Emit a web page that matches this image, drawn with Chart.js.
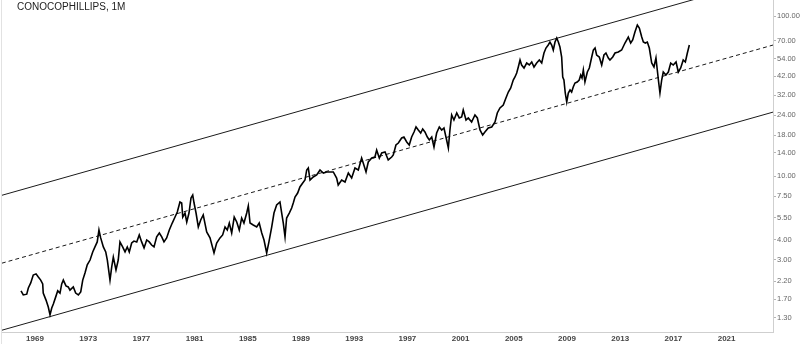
<!DOCTYPE html>
<html>
<head>
<meta charset="utf-8">
<title>ConocoPhillips, 1M</title>
<script src="https://cdn.jsdelivr.net/npm/chart.js@4.4.1/dist/chart.umd.min.js"></script>
<style>
    html, body { margin: 0; padding: 0; background: #fff; }
    #wrap { position: relative; width: 800px; height: 344px; }
    #title { position: absolute; left: 17px; top: 0; font: 10px/14px "Liberation Sans", Arial, sans-serif; color: #222; }
    #edge { position: absolute; left: 1px; top: 0; width: 1px; height: 344px; background: #e2e2e2; }
</style>
</head>
<body>
<div id="wrap">
    <canvas id="chart" width="800" height="344"></canvas>
    <div id="edge"></div>
    <div id="title">CONOCOPHILLIPS, 1M</div>
</div>
<script>
// Dữ liệu (giá tháng, thang log)
const years = [
    1967.95, 1968.12, 1968.38, 1968.50, 1968.68, 1968.87, 1969.08, 1969.25, 1969.43, 1969.58,
    1969.62, 1969.83, 1970.00, 1970.13, 1970.26, 1970.38, 1970.56, 1970.71, 1970.88, 1971.01,
    1971.13, 1971.33, 1971.50, 1971.63, 1971.88, 1972.06, 1972.26, 1972.44, 1972.59, 1972.76,
    1972.93, 1973.14, 1973.34, 1973.51, 1973.68, 1973.81, 1973.94, 1974.14, 1974.32, 1974.44,
    1974.64, 1974.77, 1974.89, 1975.09, 1975.26, 1975.39, 1975.59, 1975.77, 1975.94, 1976.09,
    1976.27, 1976.44, 1976.65, 1976.84, 1977.02, 1977.20, 1977.40, 1977.59, 1977.77, 1977.95,
    1978.15, 1978.35, 1978.53, 1978.70, 1978.90, 1979.10, 1979.32, 1979.53, 1979.70, 1979.90,
    1980.03, 1980.11, 1980.28, 1980.41, 1980.58, 1980.73, 1980.86, 1980.96, 1981.11, 1981.28,
    1981.46, 1981.65, 1981.91, 1982.16, 1982.46, 1982.66, 1982.91, 1983.11, 1983.29, 1983.46,
    1983.61, 1983.79, 1983.98, 1984.17, 1984.36, 1984.54, 1984.71, 1984.92, 1985.04, 1985.17,
    1985.41, 1985.67, 1985.86, 1986.05, 1986.22, 1986.42, 1986.59, 1986.80, 1986.97, 1987.17,
    1987.42, 1987.55, 1987.67, 1987.80, 1987.92, 1988.12, 1988.30, 1988.42, 1988.55, 1988.75,
    1988.92, 1989.13, 1989.30, 1989.43, 1989.55, 1989.68, 1989.92, 1990.18, 1990.43, 1990.68,
    1990.93, 1991.18, 1991.43, 1991.68, 1991.80, 1992.06, 1992.31, 1992.56, 1992.81, 1993.06,
    1993.31, 1993.56, 1993.68, 1993.89, 1994.06, 1994.32, 1994.56, 1994.69, 1994.89, 1995.07,
    1995.32, 1995.56, 1995.82, 1995.94, 1996.14, 1996.32, 1996.57, 1996.74, 1996.95, 1997.14,
    1997.32, 1997.50, 1997.65, 1997.82, 1998.00, 1998.15, 1998.32, 1998.50, 1998.65, 1998.83,
    1999.00, 1999.20, 1999.40, 1999.58, 1999.75, 1999.95, 2000.08, 2000.20, 2000.33, 2000.50,
    2000.71, 2000.90, 2001.08, 2001.20, 2001.41, 2001.58, 2001.83, 2002.08, 2002.26, 2002.46,
    2002.66, 2002.83, 2003.08, 2003.34, 2003.59, 2003.76, 2003.96, 2004.21, 2004.41, 2004.59,
    2004.77, 2004.96, 2005.09, 2005.22, 2005.34, 2005.47, 2005.59, 2005.77, 2005.97, 2006.17,
    2006.35, 2006.52, 2006.72, 2006.92, 2007.10, 2007.27, 2007.42, 2007.59, 2007.72, 2007.85,
    2007.97, 2008.10, 2008.23, 2008.35, 2008.47, 2008.60, 2008.68, 2008.77, 2008.87, 2008.98,
    2009.10, 2009.23, 2009.35, 2009.47, 2009.60, 2009.77, 2009.92, 2010.03, 2010.13, 2010.23,
    2010.35, 2010.53, 2010.68, 2010.86, 2010.98, 2011.11, 2011.23, 2011.43, 2011.61, 2011.78,
    2011.93, 2012.11, 2012.23, 2012.44, 2012.61, 2012.86, 2013.11, 2013.36, 2013.61, 2013.79,
    2013.94, 2014.11, 2014.29, 2014.44, 2014.62, 2014.74, 2014.89, 2015.04, 2015.19, 2015.37,
    2015.54, 2015.69, 2015.79, 2015.89, 2015.99, 2016.12, 2016.24, 2016.44, 2016.62, 2016.80,
    2016.99, 2017.20, 2017.37, 2017.55, 2017.74, 2017.90, 2018.05, 2018.20
];
const closes = [
    1.92, 1.81, 1.83, 2.00, 2.15, 2.41, 2.45, 2.34, 2.24, 2.12,
    1.86, 1.68, 1.52, 1.36, 1.50, 1.59, 1.76, 1.92, 1.86, 2.12,
    2.24, 2.06, 2.03, 1.94, 2.03, 1.86, 1.81, 1.89, 2.24, 2.48,
    2.79, 2.99, 3.36, 3.61, 3.88, 4.61, 4.11, 3.61, 3.36, 2.99,
    2.24, 2.71, 3.12, 2.59, 2.99, 3.88, 3.61, 3.36, 3.61, 3.36,
    3.82, 3.93, 3.88, 4.29, 3.88, 3.56, 3.99, 3.88, 3.71, 3.61,
    4.17, 4.41, 4.17, 3.88, 4.11, 4.61, 5.09, 5.55, 5.97, 6.89,
    6.79, 5.55, 5.88, 5.17, 5.88, 7.30, 7.62, 6.79, 5.88, 4.81,
    5.32, 5.72, 4.48, 4.11, 3.31, 3.82, 4.11, 4.29, 4.81, 4.61,
    5.09, 4.41, 5.55, 5.17, 4.61, 5.47, 5.09, 5.88, 6.51, 5.09,
    4.95, 4.81, 5.09, 4.41, 3.99, 3.31, 3.88, 4.81, 5.88, 6.60,
    6.89, 5.88, 5.09, 4.17, 5.47, 5.88, 6.32, 6.79, 7.40, 7.84,
    8.55, 9.06, 9.45, 10.92, 11.24, 9.45, 9.87, 10.16, 10.92, 10.45,
    10.61, 10.61, 10.61, 9.73, 8.80, 9.45, 9.19, 10.45, 9.73, 11.24,
    10.92, 12.97, 12.07, 10.61, 12.25, 12.97, 13.16, 14.55, 12.97, 13.94,
    14.14, 12.61, 13.16, 13.55, 15.64, 16.10, 17.30, 17.55, 16.33, 15.64,
    17.55, 18.86, 20.27, 19.41, 18.59, 19.70, 18.86, 17.55, 16.81, 17.55,
    15.20, 18.59, 20.27, 19.41, 19.98, 16.81, 14.98, 19.41, 24.08, 22.41,
    24.79, 23.07, 23.40, 25.88, 22.41, 23.07, 21.77, 24.08, 23.07, 19.41,
    18.06, 18.86, 19.98, 20.27, 21.77, 24.79, 26.64, 27.81, 30.75, 33.52,
    35.50, 39.83, 41.59, 44.06, 48.02, 53.11, 49.42, 47.34, 50.86, 49.42,
    51.61, 48.02, 50.86, 53.11, 50.86, 58.73, 63.10, 65.89, 68.79, 65.89,
    61.31, 68.79, 72.86, 68.79, 64.02, 55.45, 41.59, 39.83, 33.04, 29.03,
    33.04, 34.50, 33.52, 36.02, 38.15, 38.71, 39.83, 42.81, 41.00, 45.99,
    38.71, 44.69, 47.34, 55.45, 61.31, 63.10, 57.06, 55.45, 49.42, 57.06,
    58.73, 54.66, 53.11, 55.45, 58.73, 59.58, 61.31, 67.81, 73.91, 67.81,
    70.80, 79.45, 87.86, 84.14, 73.91, 68.79, 67.81, 68.79, 63.10, 50.86,
    48.02, 54.66, 45.99, 38.71, 33.04, 39.83, 44.69, 42.81, 44.69, 50.86,
    49.42, 51.61, 44.69, 47.34, 53.11, 51.61, 58.73, 65.89
];

// Kênh xu hướng: ba đường song song (trên, giữa nét đứt, dưới)
const channelYears = [1966, 2025];
const upperLine = [7.38, 179.9];
const middleLine = [2.78, 67.7];
const lowerLine = [1.06, 25.8];

// Nhãn trục
const xTickYears = [1969, 1973, 1977, 1981, 1985, 1989, 1993, 1997, 2001, 2005, 2009, 2013, 2017, 2021];
const yTickValues = [1.3, 1.7, 2.2, 3, 4, 5.5, 7.5, 10, 14, 18, 24, 32, 42, 54, 70, 100];

function toPoints(xs, ys) {
    return xs.map((x, i) => ({x: x, y: ys[i]}));
}

function channelSet(values, dash) {
    return {
        data: toPoints(channelYears, values),
        borderColor: '#1a1a1a',
        borderWidth: 1,
        borderDash: dash,
        pointRadius: 0,
        tension: 0
    };
}

const ctx = document.getElementById('chart').getContext('2d');

new Chart(ctx, {
    type: 'line',
    data: {
        datasets: [
            {
                label: 'COP',
                data: toPoints(years, closes),
                borderColor: '#000',
                borderWidth: 1.6,
                pointRadius: 0,
                tension: 0
            },
            channelSet(upperLine, []),
            channelSet(middleLine, [4, 3]),
            channelSet(lowerLine, [])
        ]
    },
    options: {
        responsive: false,
        animation: false,
        devicePixelRatio: 1,
        layout: {padding: {left: 2, right: 0, top: 0, bottom: 0}},
        plugins: {
            legend: {display: false},
            tooltip: {enabled: false}
        },
        scales: {
            x: {
                type: 'linear',
                position: 'bottom',
                min: 1966.52,
                max: 2024.49,
                afterBuildTicks: s => { s.ticks = xTickYears.map(v => ({value: v})); },
                afterFit: s => { s.height = 12; s.paddingLeft = 0; s.paddingRight = 0; },
                ticks: {
                    callback: v => String(v),
                    autoSkip: false,
                    maxRotation: 0,
                    padding: 2,
                    color: '#444',
                    font: {family: '"Liberation Sans", Arial, sans-serif', size: 8, weight: 'bold'}
                },
                grid: {drawOnChartArea: false, drawTicks: false},
                border: {color: '#cfcfcf'}
            },
            y: {
                type: 'logarithmic',
                position: 'right',
                min: 1.062,
                max: 125.9,
                afterBuildTicks: s => { s.ticks = yTickValues.map(v => ({value: v})); },
                afterFit: s => { s.width = 27; s.paddingTop = 0; s.paddingBottom = 0; },
                ticks: {
                    callback: v => Number(v).toFixed(2),
                    autoSkip: false,
                    padding: 1,
                    color: '#666',
                    font: {family: '"Liberation Sans", Arial, sans-serif', size: 7.5}
                },
                grid: {drawOnChartArea: false, drawTicks: true, tickLength: 3, color: '#b5b5b5'},
                border: {color: '#cfcfcf'}
            }
        }
    }
});
</script>
</body>
</html>
